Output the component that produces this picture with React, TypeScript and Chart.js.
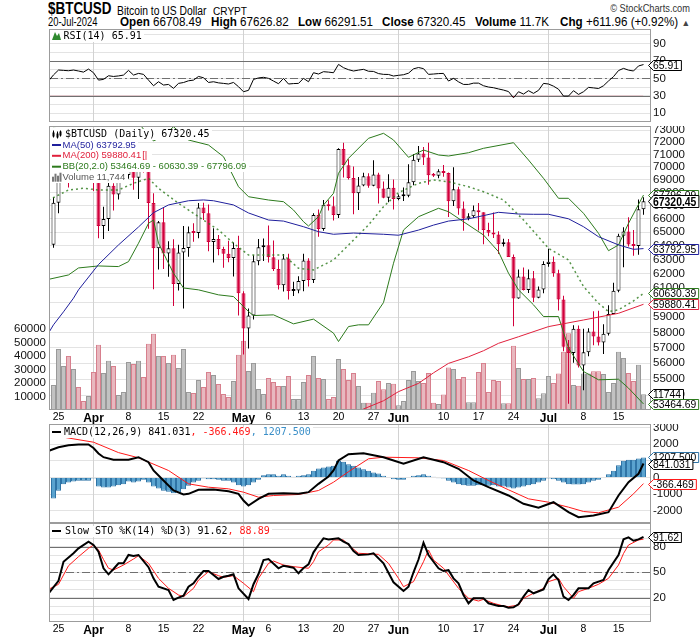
import React, { useEffect, useRef } from 'react';
import { Chart, registerables } from 'chart.js';

Chart.register(...registerables);

// ---------------- data ----------------
// day index 0 = 24-Mar-2024 ... 118 = 20-Jul-2024
const tickDays = [1, 8, 15, 22, 29, 38, 43, 50, 57, 64, 69, 78, 85, 92, 99, 106, 113];
const tickLabels = ['25', 'Apr', '8', '15', '22', 'May', '6', '13', '20', '27', 'Jun', '10', '17', '24', 'Jul', '8', '15'];
const monthDays = [8, 38, 69, 99];

const opens = [
  64070, 67210, 69880, 69990, 69450, 70740, 69890, 69650, 71330, 69700,
  65450, 65980, 68510, 67840, 68900, 69360, 71620, 69140, 70590, 70060,
  67190, 63820, 65740, 63430, 63810, 61280, 63510, 63840, 64990, 64930,
  66840, 66410, 64280, 64500, 63760, 63420, 63110, 63840, 60640, 58250,
  59120, 62890, 63890, 64030, 63160, 62330, 61190, 63070, 60790, 60820,
  61480, 62940, 61550, 66270, 65230, 67050, 66940, 66280, 71450, 70140,
  69120, 67930, 68530, 69270, 68520, 69390, 68300, 67580, 68360, 67490,
  67710, 67750, 68800, 70570, 71080, 70760, 69340, 69300, 69650, 69510,
  67320, 68240, 66760, 66010, 66190, 66640, 66490, 65150, 64960, 64830,
  64100, 64250, 63180, 60280, 61800, 60860, 61680, 60320, 60890, 62680,
  62850, 62030, 60200, 57060, 56660, 58230, 55850, 56700, 58050, 57720,
  57340, 57900, 59230, 60800, 64730, 65040, 64090, 63990, 66708.49,
];
const highs = [
  67620, 71100, 71540, 71720, 71550, 70920, 70340, 71370, 71330, 69700,
  66900, 69290, 68720, 69000, 70280, 72720, 71740, 71100, 71240, 71220,
  67930, 65820, 66880, 64320, 64470, 64080, 65450, 65420, 65660, 67180,
  67200, 67070, 65290, 64790, 63920, 64360, 64230, 64730, 60780, 59600,
  63320, 64490, 64530, 65490, 64390, 62990, 63400, 63420, 61440, 61820,
  63420, 63100, 66400, 66700, 67420, 67390, 67680, 71500, 71950, 70610,
  70040, 69200, 69540, 69490, 70540, 69540, 68850, 69420, 69000, 67840,
  68390, 70210, 71030, 71690, 71600, 71950, 69520, 69820, 70150, 69560,
  69980, 68440, 67300, 66400, 66990, 67190, 66490, 65700, 66470, 65070,
  64520, 64490, 63370, 62300, 62440, 62300, 62180, 61100, 62890, 63780,
  63220, 62270, 60470, 57500, 58470, 58450, 58240, 58270, 59400, 59440,
  58530, 59820, 61370, 64880, 65360, 66100, 65160, 67450, 67626.82,
];
const lows = [
  63850, 66400, 69470, 68380, 68930, 69110, 69560, 69560, 68110, 64550,
  64500, 65090, 66620, 67450, 68790, 69060, 68210, 67500, 69560, 65250,
  60920, 62300, 62330, 61790, 59770, 60830, 59600, 63200, 64300, 64550,
  65900, 63600, 62800, 63320, 62420, 62810, 61800, 59120, 56550, 56940,
  58850, 62600, 62900, 62800, 62190, 60890, 60750, 60200, 60450, 60630,
  60780, 61100, 61350, 64650, 65100, 66620, 65860, 66060, 69160, 69000,
  66330, 66650, 68480, 68370, 68470, 67140, 67560, 67240, 66700, 67390,
  67340, 67620, 68560, 70400, 70160, 68600, 69210, 69110, 69230, 66130,
  66950, 66300, 65100, 65880, 66050, 65110, 64100, 64700, 64560, 63400,
  63940, 63180, 58400, 60260, 60820, 60650, 60040, 60300, 60630, 62490,
  61780, 59450, 56770, 53480, 56030, 55720, 54300, 56450, 57150, 57140,
  56590, 57800, 59220, 60700, 62460, 63950, 63280, 63350, 66291.51,
];
const closes = [
  67210, 69880, 69990, 69450, 70740, 69890, 69650, 71330, 69700, 65450,
  65980, 68510, 67840, 68900, 69360, 71620, 69140, 70590, 70060, 67190,
  63820, 65740, 63430, 63810, 61280, 63510, 63840, 64990, 64930, 66840,
  66410, 64280, 64500, 63760, 63420, 63110, 63840, 60640, 58250, 59120,
  62890, 63890, 64030, 63160, 62330, 61190, 63070, 60790, 60820, 61480,
  62940, 61550, 66270, 65230, 67050, 66940, 66280, 71450, 70140, 69120,
  67930, 68530, 69270, 68520, 69390, 68300, 67580, 68360, 67490, 67710,
  67750, 68800, 70570, 71080, 70760, 69340, 69300, 69650, 69510, 67320,
  68240, 66760, 66010, 66190, 66640, 66490, 65150, 64960, 64830, 64100,
  64250, 63180, 60280, 61800, 60860, 61680, 60320, 60890, 62680, 62850,
  62030, 60200, 57060, 56660, 58230, 55850, 56700, 58050, 57720, 57340,
  57900, 59230, 60800, 64730, 65040, 64090, 63990, 66708.49, 67320.45,
];
const volumes = [
  18500, 45400, 32700, 40200, 30500, 17100, 6600, 10400, 28300, 48400,
  27500, 36500, 32700, 11100, 13300, 35700, 34200, 36500, 24500, 49200,
  56600, 40200, 40200, 35000, 41000, 31200, 45400, 13300, 12600, 22300,
  17100, 28300, 26000, 19300, 11800, 9600, 21500, 41000, 51500, 29000,
  35000, 15600, 11800, 23800, 20800, 17800, 17800, 25300, 8100, 8100,
  20800, 26000, 40200, 23800, 23000, 8100, 9600, 37900, 30500, 22300,
  27500, 17800, 5300, 5300, 12800, 21500, 15500, 20000, 19500, 3600,
  6600, 22300, 29000, 21500, 20000, 27500, 5300, 4400, 11600, 31500,
  30500, 23000, 24500, 5800, 5800, 28200, 35000, 13300, 22300, 21500,
  5100, 5100, 47700, 31200, 23000, 23000, 23800, 8800, 12500, 25300,
  20000, 27200, 43200, 57000, 18500, 18000, 27200, 27200, 28700, 28700,
  26700, 13300, 20000, 43200, 38700, 27500, 21500, 33700, 11744,
];

const ma50Days = [-1, 0, 2, 4, 5, 9, 13, 17, 20, 23, 27, 30, 32, 36, 39, 43, 46, 50, 53, 56, 60, 66, 69, 73, 76, 79, 83, 86, 89, 93, 96, 99, 103, 106, 109, 113, 116, 118];
const ma50Vals = [57950, 58500, 59370, 60300, 60870, 62650, 64060, 65380, 66450, 67040, 67360, 67420, 67360, 67040, 66430, 65900, 65820, 65400, 65030, 64840, 64930, 64840, 64770, 65150, 65520, 65820, 65990, 66230, 66480, 66350, 66330, 66330, 65990, 65400, 64660, 64060, 63740, 63792.95];

const ma200Days = [60, 62, 66, 69, 73, 76, 79, 83, 86, 89, 93, 99, 106, 113, 118];
const ma200Vals = [52900, 53160, 53660, 54220, 54730, 55390, 55990, 56410, 56800, 57280, 57710, 58380, 58820, 59270, 59880.41];

const bbUpDays = [-1, 0, 17, 19, 20, 22, 24, 27, 31, 34, 37, 39, 43, 46, 48, 50, 51, 53, 54, 56, 57, 59, 63, 66, 68, 71, 74, 77, 79, 83, 86, 92, 95, 98, 101, 103, 106, 109, 111, 113, 115, 118];
const bbUpVals = [73600, 73280, 73600, 72546, 72100, 72500, 73270, 72175, 71766, 70818, 68443, 67669, 67416, 67286, 66654, 65773, 65452, 66148, 67034, 67932, 69494, 70689, 72314, 72727, 72175, 70769, 71359, 70955, 70874, 71140, 71497, 71953, 70552, 69100, 67546, 67546, 66404, 64912, 63641, 64054, 65654, 67796.09];

const bbMidDays = [-1, 3, 6, 9, 13, 16, 19, 21, 25, 29, 33, 36, 39, 43, 46, 49, 52, 56, 59, 63, 66, 69, 73, 76, 79, 83, 86, 90, 94, 99, 103, 106, 109, 111, 113, 116, 118];
const bbMidVals = [67400, 68188, 68320, 68188, 68188, 68710, 69100, 68320, 67163, 66148, 65155, 64183, 63330, 63330, 63330, 62383, 62263, 62975, 64054, 65527, 66905, 67979, 68710, 68967, 68833, 68443, 68056, 67416, 65900, 63817, 62975, 61100, 59950, 59387, 59502, 60113, 60630.39];

const bbLoDays = [-1, 3, 5, 9, 13, 15, 17, 19, 20, 21, 24, 26, 29, 33, 36, 39, 40, 44, 48, 52, 56, 57, 59, 61, 63, 66, 68, 70, 73, 77, 79, 82, 86, 89, 91, 93, 96, 98, 101, 103, 106, 109, 113, 115, 118];
const bbLoVals = [61600, 61910, 62405, 62547, 62503, 62854, 64183, 65654, 65900, 64183, 62030, 61000, 60870, 60525, 60408, 59387, 59118, 59165, 58563, 58877, 57948, 57398, 58383, 58497, 58497, 60000, 62740, 65155, 66148, 66783, 66525, 65773, 64787, 63568, 62030, 60870, 59842, 59051, 59051, 56970, 55475, 54953, 54990, 54437, 53464.69];

// RSI(14): first value is day -1, then one per day
const RSI_FIRST_DAY = -1;
const rsiVals = [
  47,
  54, 59.6, 59.2, 58.8, 59.6, 58.5, 57.2, 60.7, 56.5, 48,
  48.8, 53, 52.2, 52.8, 53.8, 59.2, 53.8, 55.7, 54.6, 48,
  41.5, 46.1, 42.3, 43, 38.5, 44.2, 45.2, 47.2, 48, 52.2,
  50.7, 45.3, 46.1, 44.8, 44.2, 43.5, 45.3, 40.4, 34.6, 36.2,
  48.8, 50.5, 51.2, 50, 46.9, 43.8, 50, 43.5, 44, 44.2,
  50, 46.1, 56.5, 55, 57.7, 57.2, 56.5, 66.1, 62.3, 60,
  58.5, 59.5, 60.4, 58.2, 58, 55.5, 54.6, 54.5, 52.7, 53.5,
  54.2, 56, 61, 62.5, 61.2, 54.6, 55, 55.5, 55.7, 46.9,
  50, 46, 43, 43, 44.5, 44.5, 41.5, 40, 39.2, 37.8,
  36.5, 34.8, 27.6, 34.6, 31.9, 35.8, 32.7, 36.2, 44.2, 43.5,
  41, 37.5, 29.6, 29.6, 35.8, 31.5, 34.6, 39.6, 39, 38.3,
  41.5, 47, 52, 59, 61.5, 59.5, 58.5, 64.3, 65.91,
];

const macdDays = [-1, 1, 3, 5, 7, 8, 9, 10, 12, 15, 17, 19, 20, 22, 24, 26, 27, 29, 32, 35, 37, 38, 39, 41, 43, 46, 49, 51, 53, 55, 56, 57, 59, 62, 66, 70, 74, 78, 81, 84, 87, 91, 94, 97, 100, 103, 105, 108, 111, 113, 115, 117, 118];
const macdVals = [1600, 1825, 1946, 1988, 1988, 1780, 1450, 1223, 1066, 1066, 1223, 922, 422, -181, -783, -1024, -984, -741, -723, -825, -984, -1386, -1687, -1285, -984, -944, -984, -884, -382, 60, 422, 1024, 1400, 1466, 1223, 825, 1223, 922, 524, -181, -584, -1084, -1584, -1825, -1488, -2090, -2392, -2289, -2090, -1084, -283, 223, 841.031];
const signalDays = [-1, 2, 8, 13, 17, 23, 27, 31, 35, 38, 41, 44, 49, 53, 56, 59, 63, 66, 73, 78, 83, 87, 91, 95, 99, 103, 106, 109, 113, 116, 118];
const signalVals = [2500, 2428, 2127, 1500, 1187, 422, -382, -584, -683, -884, -1186, -1084, -1024, -783, -283, 350, 1127, 1223, 1187, 1024, 422, -181, -741, -1285, -1488, -1787, -2048, -2127, -1787, -984, -366.469];
const histVals = [
  -1265, -803, -402, -301, -241, -200, -200, -200, -60, -542,
  -602, -602, -542, -462, -402, -241, -301, -241, -140, -301,
  -542, -663, -803, -863, -944, -904, -703, -502, -301, -200,
  -60, -100, -100, -140, -200, -200, -301, -462, -542, -462,
  -301, -140, 140, 200, 200, 100, 200, 100, 40, 100,
  140, 200, 402, 542, 602, 663, 703, 1004, 944, 803,
  703, 602, 502, 402, 301, 241, 100, 0, -100, -140,
  -140, 0, 100, 140, 200, 100, 40, -40, -60, -200,
  -301, -402, -462, -502, -502, -462, -462, -502, -462, -542,
  -542, -602, -663, -602, -542, -462, -402, -301, -200, -60,
  -100, -200, -301, -402, -420, -420, -402, -301, -200, -140,
  0, 200, 402, 743, 1004, 1064, 1064, 1145, 1207.5,
];

const stoKDays = [-1, 1, 2, 4, 5, 7, 8, 9, 10, 11, 12, 13, 14, 15, 16, 17, 19, 20, 21, 23, 24, 25, 26, 27, 28, 29, 30, 31, 32, 33, 34, 35, 36, 37, 39, 40, 41, 42, 43, 45, 46, 48, 49, 50, 51, 52, 53, 54, 55, 57, 58, 59, 60, 61, 63, 64, 66, 68, 70, 71, 72, 73, 74, 75, 77, 78, 79, 80, 81, 82, 83, 84, 86, 87, 89, 90, 91, 92, 93, 94, 95, 96, 98, 99, 100, 101, 102, 103, 104, 105, 107, 108, 110, 111, 113, 114, 115, 116, 117, 118];
const stoKVals = [25, 40, 62.4, 72.3, 78.1, 85.9, 82, 74.1, 54.7, 47.6, 53.9, 60.5, 60.5, 70.3, 69.1, 70.3, 56, 42.9, 33.1, 29.2, 17.5, 20.2, 22.6, 33.1, 37.1, 44.8, 51.5, 51.5, 46.8, 42.1, 44.8, 46, 47.6, 31.2, 18.7, 36, 48, 64.4, 65.6, 54.7, 57.7, 55.4, 48.8, 55, 59.3, 73.4, 82, 89.8, 88.6, 89.8, 85.9, 83, 75, 70.3, 71, 72.3, 60.5, 38.3, 28.1, 33.1, 50, 65, 84.7, 70.3, 54.7, 51.5, 52.5, 42.9, 37.1, 23.4, 13.6, 19.5, 19.5, 13.6, 10.5, 10.5, 8.5, 9, 12.5, 21.4, 29.2, 25.4, 30, 42, 47.6, 40.9, 21.4, 17.5, 23.4, 31.2, 31.2, 37.1, 40.9, 52.7, 70.3, 88.6, 91, 87, 88.6, 91.62];
const stoDDays = [-1, 1, 3, 5, 7, 8, 9, 10, 11, 12, 14, 16, 17, 19, 21, 23, 25, 26, 28, 29, 31, 33, 34, 36, 38, 40, 41, 43, 44, 46, 48, 51, 52, 53, 55, 56, 58, 59, 61, 65, 67, 69, 70, 72, 74, 75, 76, 78, 79, 81, 83, 85, 86, 88, 90, 91, 93, 94, 96, 98, 99, 101, 102, 104, 105, 107, 109, 111, 113, 114, 115, 117, 118];
const stoDVals = [30, 35.9, 57.7, 68.3, 78.1, 82, 76.1, 65, 54.7, 52.7, 58.5, 65.6, 69.5, 60.5, 42.9, 31.2, 23.4, 21.4, 31.2, 40.9, 50.7, 46, 44.1, 46, 37.1, 27.3, 42.9, 60.5, 63.2, 58.5, 56.6, 54.7, 62.4, 74.1, 82, 87.9, 87.9, 82, 72.3, 71, 60.5, 42.9, 33.1, 39, 62.4, 76.1, 64.4, 54.7, 46.8, 31.2, 19.5, 16.3, 18.3, 13.6, 10.5, 9.7, 11.6, 19.5, 25.4, 31.2, 39, 42.9, 33.1, 19.5, 27.3, 31.2, 35.9, 42.9, 58.5, 72, 82, 87.9, 88.89];

const priceTicks = [54000, 55000, 56000, 57000, 58000, 59000, 60000, 61000, 62000, 63000, 64000, 65000, 66000, 67000, 68000, 69000, 70000, 71000, 72000, 73000];
const volTicks = [10000, 20000, 30000, 40000, 50000, 60000];
const rsiGrid = [0, 10, 20, 30, 40, 50, 60, 70, 80, 90, 100];
const rsiLabels = [10, 30, 50, 70, 90];
const macdTicks = [-2000, -1000, 0, 1000, 2000, 3000];
const stoGrid = [0, 10, 20, 30, 40, 50, 60, 70, 80, 90, 100];
const stoLabels = [20, 50, 80];

// ---------------- layout / style ----------------
const X_MIN = -0.7;
const X_MAX = 119.3;
const RSI_TOP = 29, RSI_H = 93;
const MAIN_TOP = 126, MAIN_PLOT = 284, MAIN_LBL = 14;
const MACD_TOP = 424, MACD_H = 99;
const STO_TOP = 523, STO_PLOT = 99, STO_LBL = 17;

const SANS = '"Liberation Sans", Arial, sans-serif';
const MONO = '"DejaVu Sans Mono", monospace';
const GRID = '#e3e3e3';
const MONTH = '#d2d2d2';
const BORDER = '#9c9c9c';
const DARK = '#707070';
const RED = '#d2003c';
const MA50C = '#1f1f9c';
const MA200C = '#e0203c';
const BBC = '#2c7a1c';
const HISTC = '#5aa3cf';
const HISTB = '#2f74a6';

const pts = (d: number[], v: number[]) => d.map((x, k) => ({ x, y: v[k] }));
const seq = (first: number, v: number[]) => v.map((y, k) => ({ x: first + k, y }));

function xAxis(lbl: number) {
  return {
    type: 'linear', min: X_MIN, max: X_MAX, offset: false, display: lbl > 0,
    grid: { display: false, drawTicks: false, offset: false },
    border: { display: false },
    afterBuildTicks: (s: any) => { s.ticks = tickDays.map((v) => ({ value: v })); },
    afterFit: (s: any) => { s.height = lbl; s.paddingLeft = 0; s.paddingRight = 0; },
    ticks: {
      autoSkip: false, maxRotation: 0, minRotation: 0, padding: 1, color: '#000',
      font: (c: any) => {
        const m = c.tick && monthDays.includes(c.tick.value);
        return { family: SANS, size: m ? 12 : 10.5, weight: m ? 'bold' : 'normal' };
      },
      callback: (v: number) => { const k = tickDays.indexOf(v); return k >= 0 ? tickLabels[k] : ''; },
    },
  };
}

function yRight(type: string, min: number, max: number, ticks: number[], labels: number[]) {
  return {
    type, position: 'right', min, max,
    afterBuildTicks: (s: any) => { s.ticks = ticks.map((v) => ({ value: v })); },
    afterFit: (s: any) => { s.width = 50; s.paddingTop = 0; s.paddingBottom = 0; },
    grid: { color: GRID, lineWidth: 1, drawTicks: false },
    border: { display: false },
    ticks: {
      autoSkip: false, padding: 3, color: '#111', font: { family: SANS, size: 11.5 },
      callback: (v: number) => (labels.includes(v) ? String(v) : ''),
    },
  };
}

type Tag = { axis: string; value: number; text: string; color: string; bold?: boolean };

function drawTag(ctx: CanvasRenderingContext2D, x0: number, y: number, t: Tag) {
  ctx.save();
  const font = t.bold ? `bold 13px ${SANS}` : `11.5px ${SANS}`;
  const sx = t.bold ? 0.8 : 0.9;
  ctx.font = font;
  const tw = ctx.measureText(t.text).width * sx;
  const h = t.bold ? 12 : 10;
  const l = x0 - 1.5;
  const r = l + 4 + tw + 3;
  const yy = Math.round(y) + 0.5;
  ctx.beginPath();
  ctx.moveTo(l, yy);
  ctx.lineTo(l + 5, yy - h / 2);
  ctx.lineTo(r, yy - h / 2);
  ctx.lineTo(r, yy + h / 2);
  ctx.lineTo(l + 5, yy + h / 2);
  ctx.closePath();
  ctx.fillStyle = '#fff';
  ctx.fill();
  ctx.lineWidth = 1;
  ctx.strokeStyle = t.color;
  ctx.stroke();
  ctx.translate(l + 4.5, yy + 0.5);
  ctx.scale(sx, 1);
  ctx.fillStyle = '#000';
  ctx.textBaseline = 'middle';
  ctx.fillText(t.text, 0, 0);
  ctx.restore();
}

function measure(ctx: CanvasRenderingContext2D, s: string, font: string, sx = 1) {
  ctx.save();
  ctx.font = font;
  const w = ctx.measureText(s).width * sx;
  ctx.restore();
  return w;
}

function text(ctx: CanvasRenderingContext2D, s: string, x: number, y: number, font: string, color: string, sx = 1) {
  ctx.save();
  ctx.font = font;
  ctx.fillStyle = color;
  ctx.textBaseline = 'middle';
  ctx.textAlign = 'left';
  ctx.translate(x, y);
  ctx.scale(sx, 1);
  ctx.fillText(s, 0, 0);
  const w = ctx.measureText(s).width * sx;
  ctx.restore();
  return w;
}

function bg(ctx: CanvasRenderingContext2D, x1: number, y: number, h = 11) {
  ctx.save();
  ctx.fillStyle = '#fff';
  ctx.fillRect(50, Math.round(y - h / 2), Math.ceil(x1 - 50 + 2), h);
  ctx.restore();
}

function swatch(ctx: CanvasRenderingContext2D, y: number, color: string) {
  ctx.save();
  ctx.strokeStyle = color;
  ctx.lineWidth = 2;
  ctx.beginPath();
  ctx.moveTo(52, y);
  ctx.lineTo(61, y);
  ctx.stroke();
  ctx.restore();
}

function panelPlugin(top: number, hLines: { v: number; dash?: number[] }[], tags: Tag[], legend: (ctx: CanvasRenderingContext2D, top: number) => void) {
  return {
    id: 'panel',
    beforeDatasetsDraw(chart: any) {
      const { ctx, chartArea: a, scales } = chart;
      ctx.save();
      ctx.lineWidth = 1;
      ctx.strokeStyle = MONTH;
      monthDays.forEach((d) => {
        const x = Math.round(scales.x.getPixelForValue(d) - 0.5) + 0.5;
        ctx.beginPath();
        ctx.moveTo(x, a.top);
        ctx.lineTo(x, a.bottom);
        ctx.stroke();
      });
      hLines.forEach((h) => {
        const y = Math.round(scales.y.getPixelForValue(h.v)) + 0.5;
        ctx.strokeStyle = DARK;
        ctx.setLineDash(h.dash || []);
        ctx.beginPath();
        ctx.moveTo(a.left, y);
        ctx.lineTo(a.right, y);
        ctx.stroke();
      });
      ctx.restore();
    },
    afterDraw(chart: any) {
      const { ctx, chartArea: a, scales } = chart;
      legend(ctx, top);
      ctx.save();
      ctx.strokeStyle = BORDER;
      ctx.lineWidth = 1;
      ctx.strokeRect(a.left - 0.5, a.top + 0.5, a.right - a.left + 1, a.bottom - a.top - 1);
      ctx.restore();
      tags.forEach((t) => drawTag(ctx, a.right, scales[t.axis].getPixelForValue(t.value), t));
    },
  };
}

const baseOpts = {
  responsive: false,
  animation: false,
  events: [],
  layout: { padding: 0 },
  plugins: { legend: { display: false }, tooltip: { enabled: false } },
};

function rsiConfig(): any {
  return {
    type: 'line',
    data: {
      datasets: [{
        data: seq(RSI_FIRST_DAY, rsiVals), borderColor: '#000', borderWidth: 1, pointRadius: 0,
        fill: { target: { value: 30 }, above: 'rgba(0,0,0,0)', below: 'rgba(205,30,60,0.75)' },
      }],
    },
    options: {
      ...baseOpts,
      layout: { padding: { left: 50 } },
      scales: { x: xAxis(0), y: yRight('linear', -0.3, 106.9, rsiGrid, rsiLabels) },
    },
    plugins: [panelPlugin(RSI_TOP, [{ v: 70 }, { v: 30 }, { v: 50, dash: [8, 3, 2, 3] }],
      [{ axis: 'y', value: 65.91, text: '65.91', color: '#000' }],
      (ctx, top) => {
        const y = 36 - top;
        const f = `10px ${MONO}`;
        bg(ctx, 63.5 + measure(ctx, 'RSI(14) 65.91', f), y);
        ctx.save();
        ctx.fillStyle = '#2f8a2f';
        ctx.beginPath();
        ctx.moveTo(52, y + 4); ctx.lineTo(55, y - 4); ctx.lineTo(57, y); ctx.lineTo(59, y - 3); ctx.lineTo(61, y + 4);
        ctx.closePath(); ctx.fill();
        ctx.restore();
        text(ctx, 'RSI(14) 65.91', 63.5, y, f, '#000');
      })],
  };
}

function mainConfig(): any {
  const candles = opens.map((o, i) => ({ o, h: highs[i], l: lows[i], c: closes[i] }));
  const up = candles.map((k) => k.c >= k.o);
  const volUp = closes.map((c, i) => c >= (i ? closes[i - 1] : opens[0]));
  return {
    type: 'bar',
    data: {
      datasets: [
        { type: 'line', data: pts(ma50Days, ma50Vals), borderColor: MA50C, borderWidth: 1, pointRadius: 0, order: 1 },
        { type: 'line', data: pts(ma200Days, ma200Vals), borderColor: MA200C, borderWidth: 1, pointRadius: 0, order: 2 },
        { type: 'line', data: pts(bbUpDays, bbUpVals), borderColor: BBC, borderWidth: 1, pointRadius: 0, order: 3 },
        { type: 'line', data: pts(bbLoDays, bbLoVals), borderColor: BBC, borderWidth: 1, pointRadius: 0, order: 3 },
        {
          type: 'line', data: pts(bbMidDays, bbMidVals), borderColor: 'rgba(44,122,28,0.8)', borderWidth: 1.5, borderDash: [2, 3], pointRadius: 0, order: 3,
        },
        {
          type: 'bar', data: candles.map((k, i) => ({ x: i, y: [Math.min(k.o, k.c), Math.max(k.o, k.c)] })),
          backgroundColor: up.map((u) => (u ? '#fff' : RED)), borderColor: up.map((u) => (u ? '#000' : RED)),
          borderWidth: 1, borderSkipped: false, barThickness: 4, maxBarThickness: 4, grouped: false, minBarLength: 2, inflateAmount: 0, order: 5,
        },
        {
          type: 'bar', data: candles.map((k, i) => ({ x: i, y: [k.l, k.h] })),
          backgroundColor: up.map((u) => (u ? '#000' : RED)), borderWidth: 0,
          barThickness: 1, maxBarThickness: 1, grouped: false, inflateAmount: 0, order: 6,
        },
        {
          type: 'bar', yAxisID: 'yVol', data: volumes.map((v, i) => ({ x: i, y: v })),
          backgroundColor: volUp.map((u) => (u ? '#c2c2c2' : '#e8b8bf')), borderColor: volUp.map((u) => (u ? '#999999' : '#d77f8d')),
          borderWidth: 1, borderSkipped: 'start', barThickness: 5, maxBarThickness: 5, grouped: false, inflateAmount: 0, order: 10,
        },
      ],
    },
    options: {
      ...baseOpts,
      scales: {
        x: xAxis(MAIN_LBL),
        y: yRight('logarithmic', 53099, 73333, priceTicks, priceTicks),
        yVol: {
          type: 'linear', position: 'left', min: 0, max: 211000,
          afterBuildTicks: (s: any) => { s.ticks = volTicks.map((v) => ({ value: v })); },
          afterFit: (s: any) => { s.width = 50; s.paddingTop = 0; s.paddingBottom = 0; },
          grid: { display: false, drawTicks: false },
          border: { display: false },
          ticks: { autoSkip: false, padding: 4, color: '#111', font: { family: SANS, size: 11.5 }, callback: (v: number) => String(v) },
        },
      },
    },
    plugins: [panelPlugin(MAIN_TOP, [], [
      { axis: 'y', value: 67796.09, text: '67796.09', color: BBC },
      { axis: 'y', value: 63792.95, text: '63792.95', color: MA50C },
      { axis: 'y', value: 60630.39, text: '60630.39', color: BBC },
      { axis: 'y', value: 59880.41, text: '59880.41', color: MA200C },
      { axis: 'yVol', value: 11744, text: '11744', color: '#000' },
      { axis: 'y', value: 53464.69, text: '53464.69', color: BBC },
      { axis: 'y', value: 67320.45, text: '67320.45', color: '#000', bold: true },
    ], (ctx, top) => {
      const f1 = `10px ${MONO}`;
      const lf = `9.5px ${SANS}`;
      const y1 = 134.5 - top;
      const yMa = 145 - top;
      const yMa2 = 155.8 - top;
      const yBb = 166.7 - top;
      const yv = 177.7 - top;
      const t1 = 'MA(200) 59880.41';
      bg(ctx, 65 + measure(ctx, '$BTCUSD (Daily) 67320.45', f1), y1);
      bg(ctx, 62.5 + measure(ctx, 'MA(50) 63792.95', lf), yMa);
      bg(ctx, 62.5 + measure(ctx, t1, lf) + 8, yMa2);
      bg(ctx, 62.5 + measure(ctx, 'BB(20,2.0) 53464.69 - 60630.39 - 67796.09', lf), yBb);
      bg(ctx, 62.5 + measure(ctx, 'Volume 11,744', lf), yv);
      ctx.save();
      ctx.strokeStyle = '#000';
      ctx.fillStyle = '#000';
      ctx.lineWidth = 1;
      [[53.5, -4, 3, -2, 2], [57.5, -3, 4, -1, 3], [60.5, -4, 2, -3, 1]].forEach(([x, a, b, c, d]) => {
        ctx.beginPath(); ctx.moveTo(x, y1 + a); ctx.lineTo(x, y1 + b); ctx.stroke();
        ctx.fillRect(x - 1, y1 + c, 2, d - c);
      });
      ctx.restore();
      text(ctx, '$BTCUSD (Daily) 67320.45', 65, y1, f1, '#000');
      swatch(ctx, yMa, MA50C);
      text(ctx, 'MA(50) 63792.95', 62.5, yMa, lf, MA50C);
      swatch(ctx, yMa2, MA200C);
      const w2 = text(ctx, t1, 62.5, yMa2, lf, MA200C);
      text(ctx, '[|', 63.5 + w2, yMa2, lf, MA200C);
      swatch(ctx, yBb, BBC);
      text(ctx, 'BB(20,2.0) 53464.69 - 60630.39 - 67796.09', 62.5, yBb, lf, BBC);
      ctx.save();
      ctx.fillStyle = '#777';
      [[52, 5], [54.5, 8], [57, 6], [59.5, 9]].forEach(([x, h]) => ctx.fillRect(x, yv + 4 - h, 2, h));
      ctx.restore();
      text(ctx, 'Volume 11,744', 62.5, yv, lf, '#555');
    })],
  };
}

function macdConfig(): any {
  return {
    type: 'bar',
    data: {
      datasets: [
        { type: 'line', data: pts(macdDays, macdVals), borderColor: '#000', borderWidth: 2, pointRadius: 0, order: 1 },
        { type: 'line', data: pts(signalDays, signalVals), borderColor: '#ff1a1a', borderWidth: 1, pointRadius: 0, order: 2 },
        {
          type: 'bar', data: seq(0, histVals), backgroundColor: HISTC, borderColor: HISTB, borderWidth: 1, borderSkipped: 'start',
          barThickness: 5, maxBarThickness: 5, grouped: false, inflateAmount: 0, order: 3,
        },
      ],
    },
    options: {
      ...baseOpts,
      layout: { padding: { left: 50 } },
      scales: { x: xAxis(0), y: yRight('linear', -2741, 3223, macdTicks, macdTicks) },
    },
    plugins: [panelPlugin(MACD_TOP, [], [
      { axis: 'y', value: 1207.5, text: '1207.500', color: HISTB },
      { axis: 'y', value: 841.031, text: '841.031', color: '#000' },
      { axis: 'y', value: -366.469, text: '-366.469', color: '#ff1a1a' },
    ], (ctx, top) => {
      const y = 432 - top;
      const f = `10px ${MONO}`;
      bg(ctx, 64 + measure(ctx, 'MACD(12,26,9) 841.031, -366.469, 1207.500', f), y);
      swatch(ctx, y, '#000');
      let x = 64;
      x += text(ctx, 'MACD(12,26,9) 841.031', x, y, f, '#000');
      x += text(ctx, ', -366.469', x, y, f, '#ff1a1a');
      text(ctx, ', 1207.500', x, y, f, '#3a8fc8');
    })],
  };
}

function stoConfig(): any {
  return {
    type: 'line',
    data: {
      datasets: [
        { data: pts(stoKDays, stoKVals), borderColor: '#000', borderWidth: 2, pointRadius: 0, order: 1 },
        { data: pts(stoDDays, stoDVals), borderColor: '#ff1a1a', borderWidth: 1, pointRadius: 0, order: 2 },
      ],
    },
    options: {
      ...baseOpts,
      layout: { padding: { left: 50 } },
      scales: { x: xAxis(STO_LBL), y: yRight('linear', -8.3, 107.8, stoGrid, stoLabels) },
    },
    plugins: [panelPlugin(STO_TOP, [{ v: 80 }, { v: 20 }, { v: 50, dash: [8, 3, 2, 3] }],
      [{ axis: 'y', value: 91.62, text: '91.62', color: '#000' }],
      (ctx, top) => {
        const y = 531 - top;
        const f = `10px ${MONO}`;
        bg(ctx, 65 + measure(ctx, 'Slow STO %K(14) %D(3) 91.62, 88.89', f), y);
        swatch(ctx, y, '#000');
        let x = 65;
        x += text(ctx, 'Slow STO %K(14) %D(3) 91.62', x, y, f, '#000');
        text(ctx, ', 88.89', x, y, f, '#ff1a1a');
      })],
  };
}

const hdr = (left: number, top: number, size: number, sx: number, content: React.ReactNode, extra: React.CSSProperties = {}) => (
  <span style={{
    position: 'absolute', left, top, fontFamily: SANS, fontSize: size, lineHeight: `${size}px`, whiteSpace: 'nowrap',
    transform: `scaleX(${sx})`, transformOrigin: '0 0', color: '#000', ...extra,
  }}>{content}</span>
);

const hdrRight = (top: number, size: number, sx: number, content: React.ReactNode, extra: React.CSSProperties = {}) => (
  <span style={{
    position: 'absolute', right: 10, top, fontFamily: SANS, fontSize: size, lineHeight: `${size}px`, whiteSpace: 'nowrap',
    transform: `scaleX(${sx})`, transformOrigin: '100% 0', color: '#000', ...extra,
  }}>{content}</span>
);

export default function App() {
  const rsiRef = useRef<HTMLCanvasElement>(null);
  const mainRef = useRef<HTMLCanvasElement>(null);
  const macdRef = useRef<HTMLCanvasElement>(null);
  const stoRef = useRef<HTMLCanvasElement>(null);

  useEffect(() => {
    const charts: Chart[] = [];
    charts.push(new Chart(rsiRef.current as HTMLCanvasElement, rsiConfig()));
    charts.push(new Chart(mainRef.current as HTMLCanvasElement, mainConfig()));
    charts.push(new Chart(macdRef.current as HTMLCanvasElement, macdConfig()));
    charts.push(new Chart(stoRef.current as HTMLCanvasElement, stoConfig()));
    return () => charts.forEach((c) => c.destroy());
  }, []);

  const cv = (top: number): React.CSSProperties => ({ position: 'absolute', left: 0, top, display: 'block' });

  return (
    <div style={{ position: 'absolute', left: 0, top: 0, width: 700, height: 639, background: '#fff', overflow: 'hidden' }}>
      {hdr(48, 1, 16, 0.84, <b>$BTCUSD</b>)}
      {hdr(116.5, 4.5, 12, 0.86, 'Bitcoin to US Dollar')}
      {hdr(213, 5.5, 10.5, 0.96, 'CRYPT')}
      {hdrRight(3, 11, 0.84, '© StockCharts.com', { color: '#333' })}
      {hdr(48, 16, 12, 0.78, '20-Jul-2024')}
      {hdr(119.5, 16, 12, 0.97, <><b>Open</b> 66708.49</>)}
      {hdr(211, 16, 12, 0.97, <><b>High</b> 67626.82</>)}
      {hdr(298, 16, 12, 0.97, <><b>Low</b> 66291.51</>)}
      {hdr(382, 16, 12, 0.97, <><b>Close</b> 67320.45</>)}
      {hdr(475, 16, 12, 0.97, <><b>Volume</b> 11.7K</>)}
      {hdrRight(16, 12, 0.97, <><b>Chg</b> +611.96 (+0.92%) <span style={{ fontSize: 9, color: '#444' }}>▲</span></>)}
      <canvas ref={rsiRef} width={700} height={RSI_H} style={cv(RSI_TOP)} />
      <canvas ref={mainRef} width={700} height={MAIN_PLOT + MAIN_LBL} style={cv(MAIN_TOP)} />
      <canvas ref={macdRef} width={700} height={MACD_H} style={cv(MACD_TOP)} />
      <canvas ref={stoRef} width={700} height={STO_PLOT + STO_LBL} style={cv(STO_TOP)} />
    </div>
  );
}
